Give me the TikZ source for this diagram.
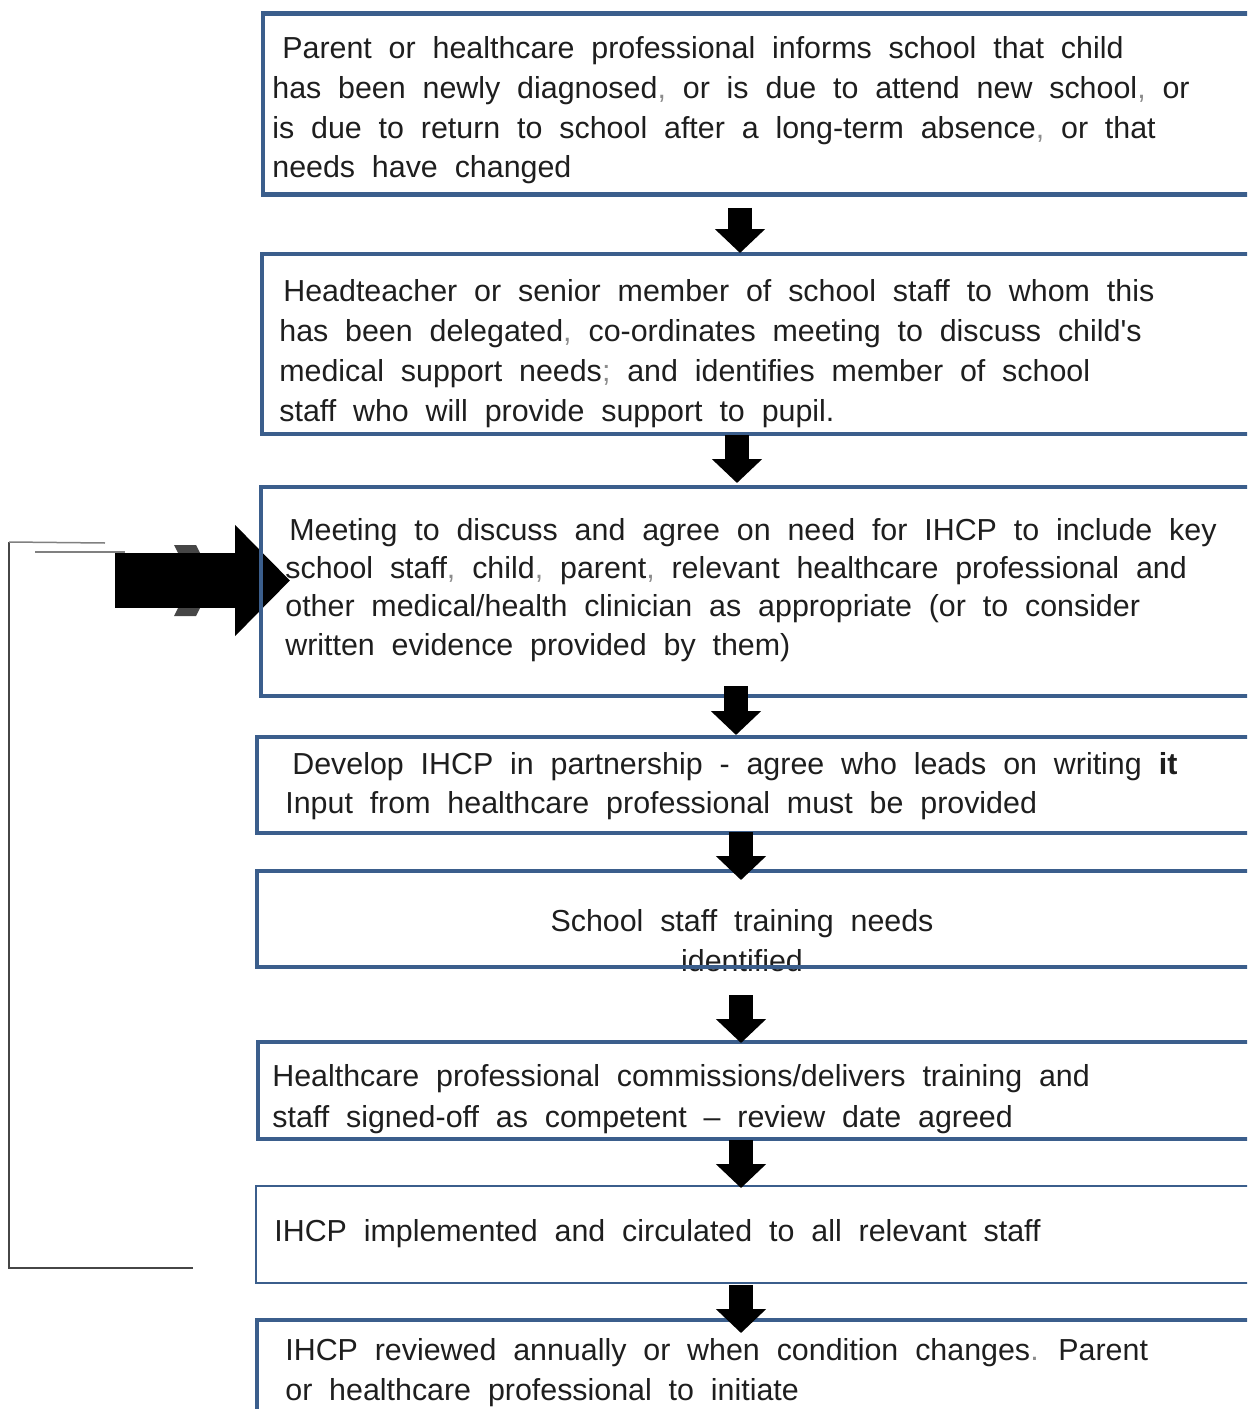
\documentclass[tikz,border=0pt]{standalone}
\usepackage{fontspec}
\setmainfont{Liberation Sans}
\usetikzlibrary{arrows.meta}
\definecolor{boxblue}{RGB}{59,94,140}
\definecolor{txtgrey}{RGB}{30,30,30}
\definecolor{punct}{RGB}{140,140,140}
\definecolor{loopgrey}{RGB}{70,70,70}
\newcommand{\gp}[1]{\textcolor{punct}{#1}}
\newcommand{\wordspace}{\setlength{\spaceskip}{9.6pt plus 2pt}}
\tikzstyle{stage} = [rectangle, draw=boxblue, line width=0.09cm, minimum width=20.5cm, outer sep=0pt, anchor=north west]
\tikzstyle{stagethin} = [stage, line width=0.045cm]
% base west of a multi-line node sits on its last line
\tikzstyle{words} = [anchor=base west, align=left, inner sep=0pt, text=txtgrey, font={\fontsize{17.3}{22.7}\selectfont\wordspace}]
\tikzstyle{downarrow} = [line width=0.48cm, -{Triangle[width=0.98cm, length=0.48cm]}]
\tikzstyle{bigarrow} = [line width=1.1cm, -{Triangle[width=2.16cm, length=1.1cm]}]
\tikzstyle{loopline} = [draw=loopgrey, line width=0.045cm]

\begin{document}
\begin{tikzpicture}[x=0.02cm, y=-0.02cm]
      \useasboundingbox (0,0) rectangle (1247,1409);
      \clip (0,0) rectangle (1247,1409);
      % return line on the left
      \coordinate (looptop) at (9,542);
      \coordinate (loopend) at (193,1268);
      \coordinate (tickA) at (105,543);
      \coordinate (tickB) at (35,552);
      \coordinate (tickC) at (125,552);
      \draw [loopline] (looptop) |- (loopend);
      \draw [loopline, draw=gray, line width=0.03cm] (looptop) -- (tickA);
      \draw [loopline, draw=gray, line width=0.03cm] (tickB) -- (tickC);
      \fill [loopgrey] (174,545) -- (196,545) -- (214,580) -- (196,616) -- (174,616) -- (192,580) -- cycle;
      \coordinate (bigtail) at (115,580.5);
      \coordinate (bighead) at (290,580.5);
      \draw [bigarrow] (bigtail) -- (bighead);
      % texts
      \node (txt1) [words] at (272,178) {\hspace*{0.2cm}Parent or healthcare professional informs school that child\\has been newly diagnosed\gp{,} or is due to attend new school\gp{,} or\\is due to return to school after a long-term absence\gp{,} or that\\needs have changed};
      \node (txt2) [words] at (279,421) {\hspace*{0.08cm}Headteacher or senior member of school staff to whom this\\has been delegated\gp{,} co-ordinates meeting to discuss child\textquotesingle s\\medical support needs\gp{;} and identifies member of school\\staff who will provide support to pupil.};
      \node (txt3) [words, font={\fontsize{17.3}{21.8}\selectfont\wordspace}] at (285,655) {\hspace*{0.08cm}Meeting to discuss and agree on need for IHCP to include key\\school staff\gp{,} child\gp{,} parent\gp{,} relevant healthcare professional and\\other medical/health clinician as appropriate (or to consider\\written evidence provided by them)};
      \node (txt4) [words, font={\fontsize{17.3}{21.8}\selectfont\wordspace}] at (285,813) {\hspace*{0.14cm}Develop IHCP in partnership - agree who leads on writing \textbf{it}\\Input from healthcare professional must be provided};
      \node (txt5) [words, anchor=base, align=center] at (742,971) {School staff training needs\\identified};
      \node (txt6) [words, font={\fontsize{17.3}{23.3}\selectfont\wordspace}] at (272,1127) {Healthcare professional commissions/delivers training and\\staff signed-off as competent -- review date agreed};
      \node (txt7) [words] at (274,1241) {IHCP implemented and circulated to all relevant staff};
      \node (txt8) [words] at (285,1400) {IHCP reviewed annually or when condition changes\gp{.} Parent\\or healthcare professional to initiate};
      % stage boxes
      \node (box1) [stage, minimum height=3.62cm] at (263,13.5) {};
      \node (box2) [stage, minimum height=3.60cm] at (262,254) {};
      \node (box3) [stage, minimum height=4.18cm] at (261,487) {};
      \node (box4) [stage, minimum height=1.92cm] at (257,737) {};
      \node (box5) [stage, minimum height=1.92cm] at (257,871) {};
      \node (box6) [stage, minimum height=1.94cm] at (258,1042) {};
      \node (box7) [stagethin, minimum height=1.94cm] at (256,1186) {};
      \node (box8) [stage, minimum height=2.2cm] at (257,1320) {};
      % arrows between the stages
      \coordinate (s1) at (740,208);  \coordinate (e1) at (740,253);
      \coordinate (s2) at (737,435);  \coordinate (e2) at (737,483);
      \coordinate (s3) at (736,686);  \coordinate (e3) at (736,735);
      \coordinate (s4) at (741,832);  \coordinate (e4) at (741,880);
      \coordinate (s5) at (741,995);  \coordinate (e5) at (741,1043);
      \coordinate (s6) at (741,1140); \coordinate (e6) at (741,1188);
      \coordinate (s7) at (741,1285); \coordinate (e7) at (741,1333);
      \draw [downarrow] (s1) -- (e1);
      \draw [downarrow] (s2) -- (e2);
      \draw [downarrow] (s3) -- (e3);
      \draw [downarrow] (s4) -- (e4);
      \draw [downarrow] (s5) -- (e5);
      \draw [downarrow] (s6) -- (e6);
      \draw [downarrow] (s7) -- (e7);
\end{tikzpicture}
\end{document}
